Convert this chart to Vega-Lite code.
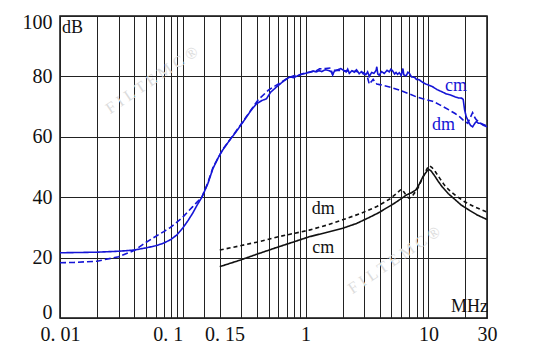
{
  "$schema": "https://vega.github.io/schema/vega-lite/v6.json",
  "width": 427,
  "height": 302,
  "autosize": {"type": "none"},
  "padding": {"left": 60, "top": 16, "right": 64, "bottom": 42},
  "background": "white",
  "config": {"view": {"stroke": "#111", "strokeWidth": 1.5}, "font": "Liberation Serif"},
  "datasets": {
    "curves": [
      {"s": "cm_blue", "f": 0.01, "db": 21.6}, {"s": "cm_blue", "f": 0.015, "db": 21.7}, {"s": "cm_blue", "f": 0.02, "db": 21.8}, {"s": "cm_blue", "f": 0.03, "db": 22.1}, {"s": "cm_blue", "f": 0.04, "db": 22.5}, {"s": "cm_blue", "f": 0.05, "db": 23.2}, {"s": "cm_blue", "f": 0.06, "db": 23.9}, {"s": "cm_blue", "f": 0.07, "db": 24.8}, {"s": "cm_blue", "f": 0.08, "db": 26.0}, {"s": "cm_blue", "f": 0.09, "db": 27.6}, {"s": "cm_blue", "f": 0.1, "db": 29.8}, {"s": "cm_blue", "f": 0.11, "db": 32.2}, {"s": "cm_blue", "f": 0.12, "db": 34.6}, {"s": "cm_blue", "f": 0.13, "db": 37.2}, {"s": "cm_blue", "f": 0.143, "db": 40.0}, {"s": "cm_blue", "f": 0.16, "db": 44.5}, {"s": "cm_blue", "f": 0.176, "db": 49.5}, {"s": "cm_blue", "f": 0.195, "db": 53.2}, {"s": "cm_blue", "f": 0.211, "db": 55.6}, {"s": "cm_blue", "f": 0.24, "db": 58.8}, {"s": "cm_blue", "f": 0.272, "db": 61.7}, {"s": "cm_blue", "f": 0.318, "db": 65.6}, {"s": "cm_blue", "f": 0.36, "db": 68.8}, {"s": "cm_blue", "f": 0.40, "db": 71.0}, {"s": "cm_blue", "f": 0.44, "db": 72.0}, {"s": "cm_blue", "f": 0.48, "db": 72.6}, {"s": "cm_blue", "f": 0.52, "db": 74.8}, {"s": "cm_blue", "f": 0.58, "db": 76.5}, {"s": "cm_blue", "f": 0.65, "db": 78.2}, {"s": "cm_blue", "f": 0.74, "db": 79.8}, {"s": "cm_blue", "f": 0.8, "db": 79.6}, {"s": "cm_blue", "f": 0.86, "db": 80.2}, {"s": "cm_blue", "f": 0.95, "db": 80.8}, {"s": "cm_blue", "f": 1.07, "db": 81.3},
      {"s": "cm_blue", "f": 1.15, "db": 81.8}, {"s": "cm_blue", "f": 1.22, "db": 81.5}, {"s": "cm_blue", "f": 1.29, "db": 81.9}, {"s": "cm_blue", "f": 1.35, "db": 81.6}, {"s": "cm_blue", "f": 1.45, "db": 82.2}, {"s": "cm_blue", "f": 1.56, "db": 81.9}, {"s": "cm_blue", "f": 1.62, "db": 81.5}, {"s": "cm_blue", "f": 1.66, "db": 80.6}, {"s": "cm_blue", "f": 1.72, "db": 81.8}, {"s": "cm_blue", "f": 1.83, "db": 82.2}, {"s": "cm_blue", "f": 1.94, "db": 82.6}, {"s": "cm_blue", "f": 2.05, "db": 81.9}, {"s": "cm_blue", "f": 2.14, "db": 81.5}, {"s": "cm_blue", "f": 2.2, "db": 82.4}, {"s": "cm_blue", "f": 2.27, "db": 81.0}, {"s": "cm_blue", "f": 2.38, "db": 81.9}, {"s": "cm_blue", "f": 2.49, "db": 81.4}, {"s": "cm_blue", "f": 2.6, "db": 82.2}, {"s": "cm_blue", "f": 2.73, "db": 80.9}, {"s": "cm_blue", "f": 2.85, "db": 81.6}, {"s": "cm_blue", "f": 2.95, "db": 80.8}, {"s": "cm_blue", "f": 3.1, "db": 80.6}, {"s": "cm_blue", "f": 3.2, "db": 81.5}, {"s": "cm_blue", "f": 3.3, "db": 80.0}, {"s": "cm_blue", "f": 3.45, "db": 81.3}, {"s": "cm_blue", "f": 3.6, "db": 81.0}, {"s": "cm_blue", "f": 3.75, "db": 82.0}, {"s": "cm_blue", "f": 3.8, "db": 83.2}, {"s": "cm_blue", "f": 3.87, "db": 80.8}, {"s": "cm_blue", "f": 3.97, "db": 80.4}, {"s": "cm_blue", "f": 4.15, "db": 81.6}, {"s": "cm_blue", "f": 4.37, "db": 81.0}, {"s": "cm_blue", "f": 4.6, "db": 82.0}, {"s": "cm_blue", "f": 4.8, "db": 81.5}, {"s": "cm_blue", "f": 4.95, "db": 82.4}, {"s": "cm_blue", "f": 5.1, "db": 81.9}, {"s": "cm_blue", "f": 5.3, "db": 80.8}, {"s": "cm_blue", "f": 5.45, "db": 81.3}, {"s": "cm_blue", "f": 5.6, "db": 80.7}, {"s": "cm_blue", "f": 5.8, "db": 81.2}, {"s": "cm_blue", "f": 6.0, "db": 80.3}, {"s": "cm_blue", "f": 6.2, "db": 82.6}, {"s": "cm_blue", "f": 6.3, "db": 80.5}, {"s": "cm_blue", "f": 6.6, "db": 80.2}, {"s": "cm_blue", "f": 6.8, "db": 81.4}, {"s": "cm_blue", "f": 7.0, "db": 81.0}, {"s": "cm_blue", "f": 7.3, "db": 79.8}, {"s": "cm_blue", "f": 7.7, "db": 79.7}, {"s": "cm_blue", "f": 8.0, "db": 79.0}, {"s": "cm_blue", "f": 8.4, "db": 78.9}, {"s": "cm_blue", "f": 9.0, "db": 78.0}, {"s": "cm_blue", "f": 9.5, "db": 77.5}, {"s": "cm_blue", "f": 10.2, "db": 77.0}, {"s": "cm_blue", "f": 10.8, "db": 76.6}, {"s": "cm_blue", "f": 11.8, "db": 75.6}, {"s": "cm_blue", "f": 12.9, "db": 74.9}, {"s": "cm_blue", "f": 14.0, "db": 74.2}, {"s": "cm_blue", "f": 15.2, "db": 73.8}, {"s": "cm_blue", "f": 16.6, "db": 73.2}, {"s": "cm_blue", "f": 17.5, "db": 72.9}, {"s": "cm_blue", "f": 18.6, "db": 72.8}, {"s": "cm_blue", "f": 19.2, "db": 72.4}, {"s": "cm_blue", "f": 19.7, "db": 69.0}, {"s": "cm_blue", "f": 20.3, "db": 66.7}, {"s": "cm_blue", "f": 21.2, "db": 65.0}, {"s": "cm_blue", "f": 22.0, "db": 63.8}, {"s": "cm_blue", "f": 22.9, "db": 63.3}, {"s": "cm_blue", "f": 24.0, "db": 64.6}, {"s": "cm_blue", "f": 24.6, "db": 65.0}, {"s": "cm_blue", "f": 25.5, "db": 64.5}, {"s": "cm_blue", "f": 26.6, "db": 64.5}, {"s": "cm_blue", "f": 28.0, "db": 63.8}, {"s": "cm_blue", "f": 30, "db": 63.3},
      {"s": "dm_blue", "f": 0.01, "db": 18.3}, {"s": "dm_blue", "f": 0.013, "db": 18.4}, {"s": "dm_blue", "f": 0.02, "db": 18.8}, {"s": "dm_blue", "f": 0.03, "db": 20.3}, {"s": "dm_blue", "f": 0.04, "db": 22.3}, {"s": "dm_blue", "f": 0.05, "db": 25.0}, {"s": "dm_blue", "f": 0.06, "db": 27.0}, {"s": "dm_blue", "f": 0.07, "db": 28.6}, {"s": "dm_blue", "f": 0.078, "db": 29.8}, {"s": "dm_blue", "f": 0.09, "db": 31.8}, {"s": "dm_blue", "f": 0.1, "db": 33.4}, {"s": "dm_blue", "f": 0.11, "db": 35.2}, {"s": "dm_blue", "f": 0.12, "db": 36.8}, {"s": "dm_blue", "f": 0.13, "db": 38.3}, {"s": "dm_blue", "f": 0.143, "db": 40.0}, {"s": "dm_blue", "f": 0.16, "db": 44.8}, {"s": "dm_blue", "f": 0.176, "db": 49.8}, {"s": "dm_blue", "f": 0.211, "db": 55.8}, {"s": "dm_blue", "f": 0.272, "db": 61.9}, {"s": "dm_blue", "f": 0.318, "db": 65.8}, {"s": "dm_blue", "f": 0.38, "db": 70.3}, {"s": "dm_blue", "f": 0.41, "db": 72.2}, {"s": "dm_blue", "f": 0.5, "db": 75.5}, {"s": "dm_blue", "f": 0.61, "db": 77.7}, {"s": "dm_blue", "f": 0.71, "db": 79.4}, {"s": "dm_blue", "f": 0.8, "db": 80.2}, {"s": "dm_blue", "f": 0.9, "db": 80.6}, {"s": "dm_blue", "f": 1.0, "db": 81.2}, {"s": "dm_blue", "f": 1.1, "db": 81.5}, {"s": "dm_blue", "f": 1.2, "db": 81.7}, {"s": "dm_blue", "f": 1.3, "db": 82.5}, {"s": "dm_blue", "f": 1.45, "db": 82.6}, {"s": "dm_blue", "f": 1.6, "db": 82.8}, {"s": "dm_blue", "f": 1.66, "db": 80.5}, {"s": "dm_blue", "f": 1.72, "db": 82.0}, {"s": "dm_blue", "f": 1.9, "db": 82.0}, {"s": "dm_blue", "f": 2.2, "db": 81.8}, {"s": "dm_blue", "f": 2.6, "db": 81.6}, {"s": "dm_blue", "f": 3.0, "db": 81.2}, {"s": "dm_blue", "f": 3.2, "db": 79.5}, {"s": "dm_blue", "f": 3.3, "db": 77.4}, {"s": "dm_blue", "f": 3.45, "db": 78.4}, {"s": "dm_blue", "f": 3.55, "db": 79.0}, {"s": "dm_blue", "f": 3.7, "db": 78.0}, {"s": "dm_blue", "f": 3.8, "db": 77.5}, {"s": "dm_blue", "f": 4.1, "db": 77.2}, {"s": "dm_blue", "f": 5.0, "db": 76.3}, {"s": "dm_blue", "f": 5.8, "db": 75.5}, {"s": "dm_blue", "f": 7.0, "db": 74.2}, {"s": "dm_blue", "f": 7.9, "db": 73.3}, {"s": "dm_blue", "f": 9.3, "db": 72.4}, {"s": "dm_blue", "f": 10.8, "db": 71.8}, {"s": "dm_blue", "f": 12.5, "db": 70.5}, {"s": "dm_blue", "f": 14.7, "db": 68.9}, {"s": "dm_blue", "f": 16.5, "db": 67.7}, {"s": "dm_blue", "f": 18.0, "db": 66.6}, {"s": "dm_blue", "f": 19.2, "db": 65.5}, {"s": "dm_blue", "f": 20.9, "db": 64.5}, {"s": "dm_blue", "f": 22.0, "db": 66.5}, {"s": "dm_blue", "f": 22.9, "db": 68.0}, {"s": "dm_blue", "f": 24.0, "db": 66.2}, {"s": "dm_blue", "f": 24.6, "db": 65.6}, {"s": "dm_blue", "f": 26.5, "db": 64.5}, {"s": "dm_blue", "f": 30, "db": 63.6},
      {"s": "cm_black", "f": 0.2, "db": 17.0}, {"s": "cm_black", "f": 0.3, "db": 19.3}, {"s": "cm_black", "f": 0.42, "db": 21.4}, {"s": "cm_black", "f": 0.576, "db": 23.3}, {"s": "cm_black", "f": 0.8, "db": 25.2}, {"s": "cm_black", "f": 1.07, "db": 26.9}, {"s": "cm_black", "f": 1.5, "db": 28.4}, {"s": "cm_black", "f": 2.0, "db": 29.7}, {"s": "cm_black", "f": 2.6, "db": 31.3}, {"s": "cm_black", "f": 3.3, "db": 33.3}, {"s": "cm_black", "f": 4.0, "db": 35.0}, {"s": "cm_black", "f": 4.5, "db": 36.3}, {"s": "cm_black", "f": 5.2, "db": 37.8}, {"s": "cm_black", "f": 5.8, "db": 39.1}, {"s": "cm_black", "f": 6.3, "db": 40.1}, {"s": "cm_black", "f": 6.6, "db": 40.7}, {"s": "cm_black", "f": 7.0, "db": 41.2}, {"s": "cm_black", "f": 7.3, "db": 41.5}, {"s": "cm_black", "f": 7.9, "db": 42.4}, {"s": "cm_black", "f": 8.4, "db": 44.2}, {"s": "cm_black", "f": 8.9, "db": 46.3}, {"s": "cm_black", "f": 9.4, "db": 47.8}, {"s": "cm_black", "f": 9.8, "db": 48.8}, {"s": "cm_black", "f": 10.1, "db": 49.2}, {"s": "cm_black", "f": 10.5, "db": 48.7}, {"s": "cm_black", "f": 11.1, "db": 47.4}, {"s": "cm_black", "f": 12.0, "db": 45.3}, {"s": "cm_black", "f": 12.9, "db": 43.5}, {"s": "cm_black", "f": 14.5, "db": 41.2}, {"s": "cm_black", "f": 16.6, "db": 39.1}, {"s": "cm_black", "f": 18.5, "db": 37.4}, {"s": "cm_black", "f": 21.3, "db": 35.8}, {"s": "cm_black", "f": 25.0, "db": 34.1}, {"s": "cm_black", "f": 30, "db": 32.6},
      {"s": "dm_black", "f": 0.2, "db": 22.5}, {"s": "dm_black", "f": 0.3, "db": 24.0}, {"s": "dm_black", "f": 0.42, "db": 25.3}, {"s": "dm_black", "f": 0.6, "db": 26.9}, {"s": "dm_black", "f": 0.8, "db": 28.0}, {"s": "dm_black", "f": 1.07, "db": 29.1}, {"s": "dm_black", "f": 1.5, "db": 30.8}, {"s": "dm_black", "f": 2.0, "db": 32.5}, {"s": "dm_black", "f": 2.8, "db": 34.6}, {"s": "dm_black", "f": 3.8, "db": 36.9}, {"s": "dm_black", "f": 4.8, "db": 39.3}, {"s": "dm_black", "f": 5.5, "db": 41.2}, {"s": "dm_black", "f": 6.0, "db": 42.6}, {"s": "dm_black", "f": 6.3, "db": 41.8}, {"s": "dm_black", "f": 6.7, "db": 40.2}, {"s": "dm_black", "f": 7.0, "db": 39.6}, {"s": "dm_black", "f": 7.5, "db": 40.7}, {"s": "dm_black", "f": 8.2, "db": 42.9}, {"s": "dm_black", "f": 8.7, "db": 45.2}, {"s": "dm_black", "f": 9.2, "db": 47.4}, {"s": "dm_black", "f": 9.8, "db": 49.6}, {"s": "dm_black", "f": 10.2, "db": 50.4}, {"s": "dm_black", "f": 10.7, "db": 49.8}, {"s": "dm_black", "f": 11.4, "db": 48.4}, {"s": "dm_black", "f": 12.5, "db": 46.0}, {"s": "dm_black", "f": 13.5, "db": 44.0}, {"s": "dm_black", "f": 14.7, "db": 42.4}, {"s": "dm_black", "f": 17.0, "db": 40.3}, {"s": "dm_black", "f": 19.7, "db": 38.5}, {"s": "dm_black", "f": 24.0, "db": 36.7}, {"s": "dm_black", "f": 30, "db": 35.1}
    ],
    "labels": [
      {"t": "cm", "f": 16.8, "db": 76.8, "c": "#1515d6"},
      {"t": "dm", "f": 13.3, "db": 63.9, "c": "#1515d6"},
      {"t": "dm", "f": 1.395, "db": 36.1, "c": "#111111"},
      {"t": "cm", "f": 1.395, "db": 23.2, "c": "#111111"},
      {"t": "dB", "f": 0.01263, "db": 96.0, "c": "#111111"},
      {"t": "MHz", "f": 21.6, "db": 3.5, "c": "#111111"}
    ],
    "marks": [
      {"t": "F  I  L  T  E  M  C  ®", "f": 0.056, "db": 78.8},
      {"t": "F  I  L  T  E  M  C  ®", "f": 5.27, "db": 19.2}
    ]
  },
  "layer": [
    {
      "data": {"name": "curves"},
      "mark": {"type": "line", "strokeWidth": 1.6, "interpolate": "linear"},
      "encoding": {
        "x": {
          "field": "f", "type": "quantitative",
          "scale": {"type": "log", "domain": [0.01, 30], "nice": false},
          "axis": {
            "title": null,
            "values": [0.01, 0.02, 0.03, 0.04, 0.05, 0.06, 0.07, 0.08, 0.09, 0.1, 0.15, 0.2, 0.3, 0.4, 0.5, 0.6, 0.7, 0.8, 0.9, 1, 2, 3, 4, 5, 6, 7, 8, 9, 10, 20, 30],
            "labelExpr": "datum.value == 0.01 ? '0. 01' : datum.value == 0.1 ? '0. 1' : datum.value == 0.15 ? '0. 15' : datum.value == 1 ? '1' : datum.value == 10 ? '10' : datum.value == 30 ? '30' : ''",
            "labelAlign": {"condition": [{"test": "datum.value == 0.1", "value": "right"}, {"test": "datum.value == 0.15", "value": "left"}], "value": "center"},
            "labelFontSize": 20, "labelFont": "Liberation Serif", "labelColor": "#111",
            "labelPadding": 6, "labelOverlap": false, "labelBound": false, "labelFlush": false,
            "ticks": false, "domain": false,
            "grid": true, "gridColor": "#222", "gridWidth": 1, "gridOpacity": 1
          }
        },
        "y": {
          "field": "db", "type": "quantitative",
          "scale": {"domain": [0, 100], "nice": false},
          "axis": {
            "title": null,
            "values": [0, 10, 20, 30, 40, 50, 60, 70, 80, 90, 100],
            "labelExpr": "datum.value % 20 == 0 ? datum.value : ''",
            "labelFontSize": 20, "labelFont": "Liberation Serif", "labelColor": "#111",
            "labelPadding": 8, "labelFlush": true, "labelFlushOffset": 4, "labelOverlap": false,
            "ticks": false, "domain": false,
            "grid": true, "gridColor": "#222", "gridWidth": 1, "gridOpacity": 1
          }
        },
        "color": {
          "field": "s", "type": "nominal", "legend": null,
          "scale": {"domain": ["cm_blue", "dm_blue", "cm_black", "dm_black"], "range": ["#1515d6", "#1515d6", "#111111", "#111111"]}
        },
        "strokeDash": {
          "field": "s", "type": "nominal", "legend": null,
          "scale": {"domain": ["cm_blue", "dm_blue", "cm_black", "dm_black"], "range": [[1, 0], [6, 3], [1, 0], [4, 3]]}
        }
      }
    },
    {
      "data": {"name": "marks"},
      "mark": {"type": "text", "angle": -34, "fontSize": 16, "color": "#dcdcdc", "font": "Liberation Serif", "align": "center", "baseline": "middle"},
      "encoding": {
        "x": {"field": "f", "type": "quantitative"},
        "y": {"field": "db", "type": "quantitative"},
        "text": {"field": "t"}
      }
    },
    {
      "data": {"name": "labels"},
      "mark": {"type": "text", "fontSize": 18, "font": "Liberation Serif", "align": "center", "baseline": "middle"},
      "encoding": {
        "x": {"field": "f", "type": "quantitative"},
        "y": {"field": "db", "type": "quantitative"},
        "text": {"field": "t"},
        "color": {"field": "c", "type": "nominal", "scale": null}
      }
    }
  ]
}
